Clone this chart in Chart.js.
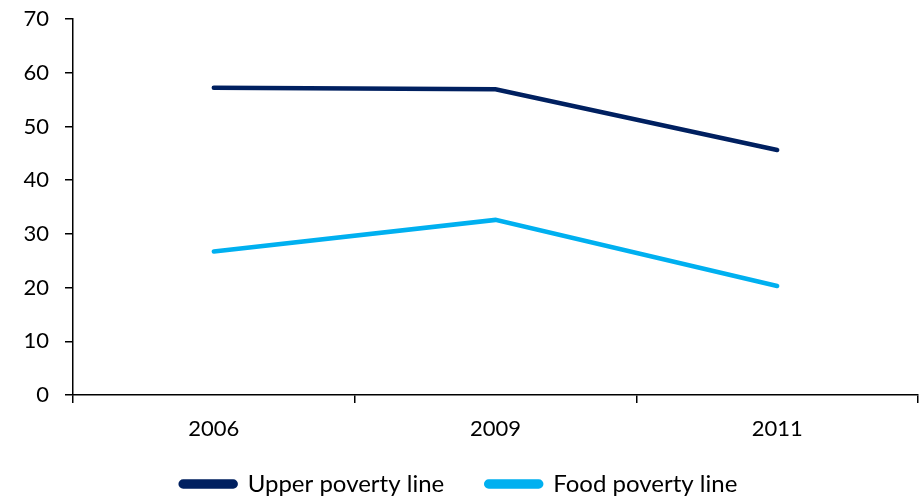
<!DOCTYPE html>
<html>
<head>
<meta charset="utf-8">
<script src="https://cdn.jsdelivr.net/npm/chart.js@4.4.0/dist/chart.umd.min.js"></script>
<style>
  html, body { margin: 0; padding: 0; background: #fff; }
  #wrap { width: 920px; height: 498px; }
</style>
</head>
<body>
<div id="wrap"><canvas id="povertyChart"></canvas></div>
<script>
// data
const years = ['2006', '2009', '2011'];
const upperPoverty = [57.2, 56.9, 45.6];
const foodPoverty = [26.7, 32.6, 20.3];
const yTicks = [0, 10, 20, 30, 40, 50, 60, 70];

const FONT = 'Lato, "Open Sans", sans-serif';
const LEGEND_SIZE = 24;
const LEGEND_GAP = 42;

// legend padding is also the gap between items, so keep its box short
// and pull it up so the row sits near the bottom edge
const legendHeightFix = {
  id: 'legendHeightFix',
  beforeInit(chart) {
    const lg = chart.legend;
    if (!lg) return;
    const fit = lg.fit;
    lg.fit = function () {
      fit.call(this);
      this.height = 43;
    };
  },
  afterLayout(chart) {
    const lg = chart.legend;
    if (!lg) return;
    lg.top = 484 - LEGEND_SIZE / 2 - LEGEND_GAP;
    lg.bottom = chart.height; // legend clips to its box
    lg.height = lg.bottom - lg.top;
  }
};

const ctx = document.getElementById('povertyChart');
new Chart(ctx, {
  type: 'line',
  data: {
    labels: years,
    datasets: [
      {
        label: 'Upper poverty line',
        data: upperPoverty,
        borderColor: '#002060',
        backgroundColor: '#002060',
        borderWidth: 4.5,
        pointRadius: 0,
        borderCapStyle: 'round',
        tension: 0
      },
      {
        label: 'Food poverty line',
        data: foodPoverty,
        borderColor: '#00B0F0',
        backgroundColor: '#00B0F0',
        borderWidth: 4.5,
        pointRadius: 0,
        borderCapStyle: 'round',
        tension: 0
      }
    ]
  },
  options: {
    responsive: true,
    maintainAspectRatio: false,
    animation: false,
    layout: { padding: { top: 0, right: 2, left: 0, bottom: 0 } },
    plugins: {
      tooltip: { enabled: false },
      legend: {
        position: 'bottom',
        labels: {
          color: '#000',
          font: { family: FONT, size: LEGEND_SIZE },
          boxWidth: 55,
          boxHeight: 5,
          padding: LEGEND_GAP,
          useBorderRadius: true,
          borderRadius: 2.5
        }
      }
    },
    scales: {
      x: {
        offset: true,
        afterFit: (axis) => { axis.height = 60; },
        border: { display: true, color: '#000', width: 1.5 },
        grid: {
          offset: true,
          drawOnChartArea: false,
          drawTicks: true,
          tickLength: 8,
          color: '#000',
          lineWidth: 1.5
        },
        ticks: {
          color: '#000',
          font: { family: FONT, size: 22 },
          padding: 13
        }
      },
      y: {
        min: 0,
        max: 70,
        afterBuildTicks: (axis) => { axis.ticks = yTicks.map(v => ({ value: v })); },
        afterFit: (axis) => { axis.width = 73; axis.paddingTop = 19; },
        border: { display: true, color: '#000', width: 1.5 },
        grid: {
          drawOnChartArea: false,
          drawTicks: true,
          tickLength: 8,
          color: '#000',
          lineWidth: 1.5
        },
        ticks: {
          color: '#000',
          font: { family: FONT, size: 22 },
          padding: 16
        }
      }
    }
  },
  plugins: [legendHeightFix]
});
</script>
</body>
</html>
